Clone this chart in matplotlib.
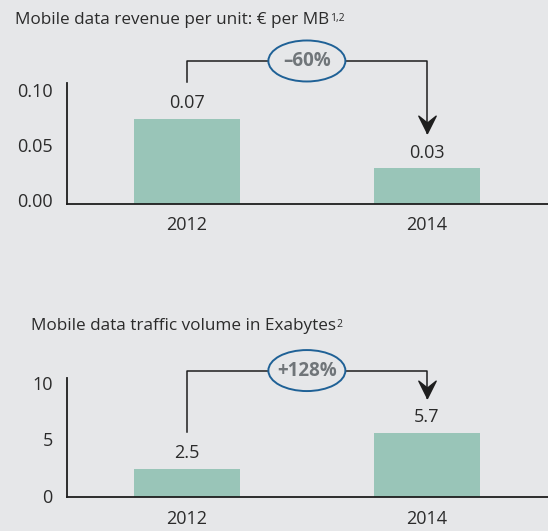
import matplotlib.pyplot as plt
import matplotlib.transforms as mtransforms
from matplotlib.patches import Ellipse
from matplotlib.path import Path

# data
years = ["2012", "2014"]
revenue = [0.077, 0.032]
revenue_labels = ["0.07", "0.03"]
traffic = [2.5, 5.7]
traffic_labels = ["2.5", "5.7"]
changes = ["\u201360%", "+128%"]

bg = "#e6e7e9"
bar_color = "#99c5b8"
text_color = "#2b2b2b"
line_color = "#1e1e1e"

plt.rcParams["font.family"] = ["Open Sans", "DejaVu Sans"]

fig = plt.figure(figsize=(5.48, 5.31), dpi=100, facecolor=bg)

# arrowhead with a notch at the back, tip at (0,0)
head = Path([(0, 0), (0.5, 1), (0, 0.6), (-0.5, 1), (0, 0)],
            [Path.MOVETO, Path.LINETO, Path.LINETO, Path.LINETO, Path.CLOSEPOLY])


def panel(rect, values, labels, ytop, ticks, ticklabels, change, bracket_gap,
          title, sup, title_xy, ylab_shift):
    ax = fig.add_axes(rect)
    ax.set_facecolor(bg)
    x = range(len(values))
    ax.bar(x, values, width=0.44, color=bar_color, zorder=2)
    ax.set_xlim(-0.5, 1.504)
    ax.set_ylim(0, ytop)
    ax.set_xticks(list(x))
    ax.set_xticklabels(years)
    ax.set_yticks(ticks)
    ax.set_yticklabels(ticklabels)
    ax.tick_params(length=0, labelsize=13, colors=text_color)
    ax.tick_params(axis="y", pad=10)
    ax.tick_params(axis="x", pad=9)
    for lab in ax.get_yticklabels():
        lab.set_transform(lab.get_transform() +
                          mtransforms.ScaledTranslation(0, ylab_shift / 100, fig.dpi_scale_trans))
    for s in ["top", "right"]:
        ax.spines[s].set_visible(False)
    for s in ["left", "bottom"]:
        ax.spines[s].set_color(line_color)
        ax.spines[s].set_linewidth(1.3)

    for xi, v, lab in zip(x, values, labels):
        ax.annotate(lab, (xi, v), xytext=(0, 11.5), textcoords="offset points",
                    ha="center", va="center", fontsize=13, color=text_color)

    # bracket from bar 1 to bar 2
    upp = ytop / ax.bbox.height  # data units per pixel
    y_left = values[0] + 37 * upp
    y_tip = values[1] + 35 * upp
    y_br = max(values) + bracket_gap * upp
    ax.plot([0, 0, 1, 1], [y_left, y_br, y_br, y_tip], color=line_color, lw=1.1,
            clip_on=False, zorder=3)
    ax.plot([1], [y_tip], marker=head, markersize=25, color=line_color,
            clip_on=False, zorder=4)

    trans = fig.dpi_scale_trans + mtransforms.ScaledTranslation(0.5, y_br, ax.transData)
    ell = Ellipse((0, 0), 0.77, 0.41, transform=trans, facecolor=bg,
                  edgecolor="#1f6196", lw=1.4, clip_on=False, zorder=5)
    ax.add_artist(ell)
    ax.text(0.5, y_br, change, ha="center", va="center", fontsize=13.5,
            fontweight="bold", color="#707579", zorder=6)

    t = fig.text(title_xy[0], title_xy[1], title, ha="left", va="center",
                 fontsize=12.3, color=text_color)
    ax.annotate(sup, xy=(1, 0.93), xycoords=t, xytext=(0.6, 0),
                textcoords="offset points", ha="left", va="top",
                fontsize=7.5, color=text_color)
    return ax


panel([0.1217, 0.6164, 0.8783, 0.2279], revenue, revenue_labels, 0.110,
      [0, 0.05, 0.10], ["0.00", "0.05", "0.10"], changes[0], 58,
      "Mobile data revenue per unit: \u20ac per MB", "1,2", (15 / 548, 1 - 20 / 531), 4)

panel([0.1217, 0.064, 0.8783, 0.2236], traffic, traffic_labels, 10.5,
      [0, 5, 10], ["0", "5", "10"], changes[1], 62,
      "Mobile data traffic volume in Exabytes", "2", (31 / 548, 1 - 326 / 531), 1)

fig.savefig("out.png", dpi=100, facecolor=bg)
